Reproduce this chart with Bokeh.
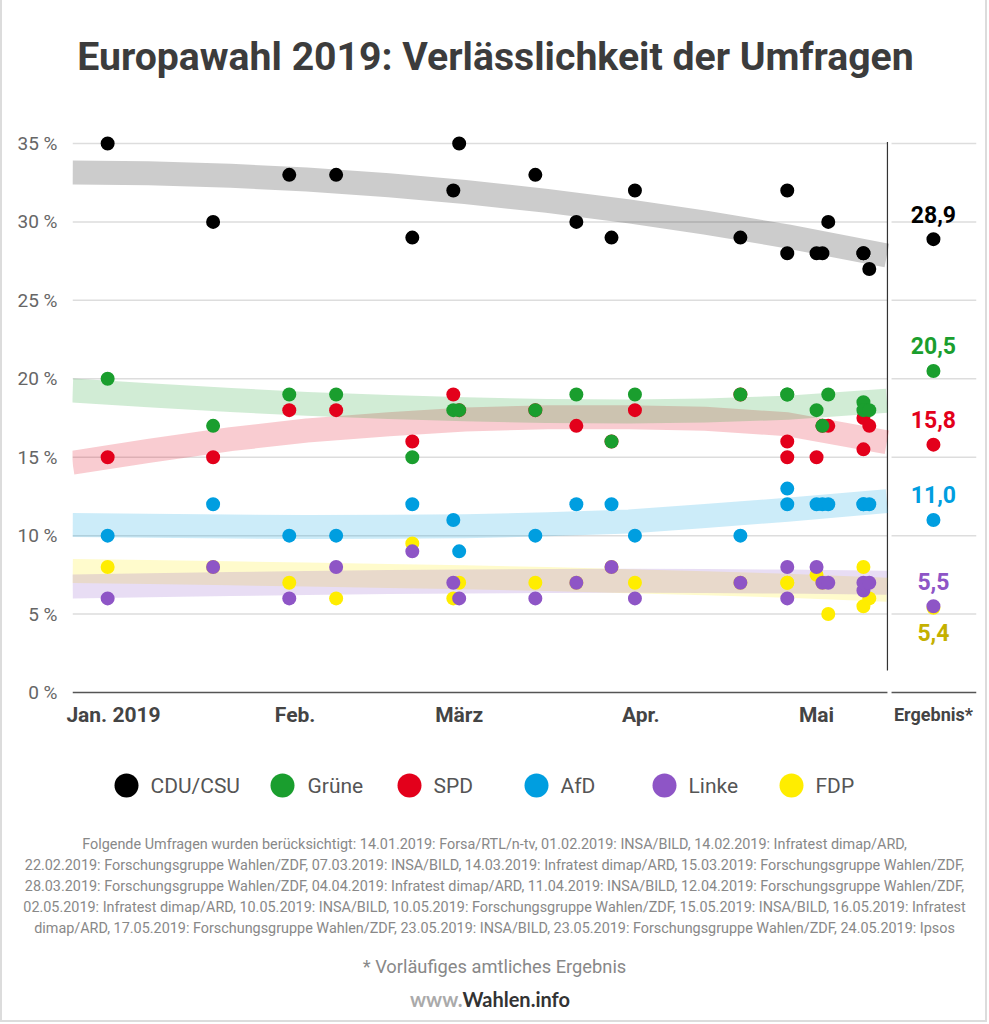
import pandas as pd
from bokeh.plotting import figure
from bokeh.models import Range1d, FixedTicker
from bokeh.layouts import column
from bokeh.embed import file_html
from bokeh.resources import INLINE
from bokeh.core.properties import value

# ---------------- data ----------------
parties = ["CDU/CSU", "Grüne", "SPD", "AfD", "Linke", "FDP"]
colors = ["#000000", "#1a9e2e", "#e3001b", "#009ee0", "#8e55c6", "#ffed00"]
result_colors = ["#000000", "#1a9e2e", "#e3001b", "#009ee0", "#8e55c6", "#c4b000"]

poll_dates = ["2019-01-14", "2019-02-01", "2019-02-14", "2019-02-22", "2019-03-07",
              "2019-03-14", "2019-03-15", "2019-03-28", "2019-04-04", "2019-04-10",
              "2019-04-14", "2019-05-02", "2019-05-10", "2019-05-10", "2019-05-15",
              "2019-05-16", "2019-05-17", "2019-05-23", "2019-05-23", "2019-05-24"]
cdu    = [35, 30, 33, 33, 29, 32, 35, 33, 30, 29, 32, 29, 28, 32, 28, 28, 30, 28, 28, 27]
gruene = [20, 17, 19, 19, 15, 18, 18, 18, 19, 16, 19, 19, 19, 19, 18, 17, 19, 18.5, 18, 18]
spd    = [15, 15, 18, 18, 16, 19, 18, 18, 17, 16, 18, 19, 15, 16, 15, 17, 17, 15.5, 17.5, 17]
afd    = [10, 12, 10, 10, 12, 11, 9, 10, 12, 12, 10, 10, 13, 12, 12, 12, 12, 12, 12, 12]
linke  = [6, 8, 6, 8, 9, 7, 6, 6, 7, 8, 6, 7, 8, 6, 8, 7, 7, 6.5, 7, 7]
fdp    = [8, 8, 7, 6, 9.5, 6, 7, 7, 7, 8, 7, 7, 7, 7, 7.5, 7, 5, 8, 5.5, 6]

result = [28.9, 20.5, 15.8, 11.0, 5.5, 5.4]
result_labels = ["28,9", "20,5", "15,8", "11,0", "5,5", "5,4"]

# trend bands (centre of each band)
trend_dates = ["2019-01-08", "2019-01-21", "2019-02-04", "2019-02-17", "2019-03-03", "2019-03-16",
               "2019-03-30", "2019-04-13", "2019-04-26", "2019-05-10", "2019-05-27"]
trend_cdu    = [33.15, 33.10, 32.94, 32.70, 32.34, 31.91, 31.34, 30.67, 29.96, 29.08, 27.86]
trend_gruene = [19.25, 18.95, 18.65, 18.40, 18.20, 18.05, 17.95, 17.92, 17.98, 18.15, 18.60]
trend_spd    = [14.65, 15.40, 16.15, 16.70, 17.10, 17.40, 17.55, 17.55, 17.45, 17.10, 15.95]
trend_afd    = [10.68, 10.63, 10.58, 10.55, 10.56, 10.60, 10.72, 10.90, 11.25, 11.65, 12.20]
trend_linke  = [6.75, 6.83, 6.92, 6.98, 7.04, 7.08, 7.11, 7.12, 7.11, 7.07, 7.00]
trend_fdp    = [7.75, 7.68, 7.60, 7.52, 7.43, 7.34, 7.23, 7.10, 6.97, 6.80, 6.55]

month_ticks = ["2019-01-15", "2019-02-15", "2019-03-15", "2019-04-15", "2019-05-15"]
month_labels = ["Jan. 2019", "Feb.", "März", "Apr.", "Mai"]
y_ticks = [0, 5, 10, 15, 20, 25, 30, 35]

title_text = "Europawahl 2019: Verlässlichkeit der Umfragen"
result_header = "Ergebnis*"
footnote_lines = [
    "Folgende Umfragen wurden berücksichtigt: 14.01.2019: Forsa/RTL/n-tv, 01.02.2019: INSA/BILD, 14.02.2019: Infratest dimap/ARD,",
    "22.02.2019: Forschungsgruppe Wahlen/ZDF, 07.03.2019: INSA/BILD, 14.03.2019: Infratest dimap/ARD, 15.03.2019: Forschungsgruppe Wahlen/ZDF,",
    "28.03.2019: Forschungsgruppe Wahlen/ZDF, 04.04.2019: Infratest dimap/ARD, 11.04.2019: INSA/BILD, 12.04.2019: Forschungsgruppe Wahlen/ZDF,",
    "02.05.2019: Infratest dimap/ARD, 10.05.2019: INSA/BILD, 10.05.2019: Forschungsgruppe Wahlen/ZDF, 15.05.2019: INSA/BILD, 16.05.2019: Infratest",
    "dimap/ARD, 17.05.2019: Forschungsgruppe Wahlen/ZDF, 23.05.2019: INSA/BILD, 23.05.2019: Forschungsgruppe Wahlen/ZDF, 24.05.2019: Ipsos",
]
note_text = "* Vorläufiges amtliches Ergebnis"

# ---------------- helpers ----------------
T0 = pd.Timestamp("2019-01-01")
def day(s):
    return (pd.Timestamp(s) - T0).days

px = [day(d) for d in poll_dates]
tx = [day(d) for d in trend_dates]
series = dict(zip(parties, [cdu, gruene, spd, afd, linke, fdp]))
trends = dict(zip(parties, [trend_cdu, trend_gruene, trend_spd, trend_afd, trend_linke, trend_fdp]))
col = dict(zip(parties, colors))

X0, X1 = 7.0, 161.3          # frame spans 904 px
SEP = 146.1                  # separator before the result column
ERG = 153.95                 # result column
GAP2 = 146.8
PXD = 904 / (X1 - X0)        # px per day
PXY = 15.686                 # px per percent
FONT = value("Roboto")

W = 987
p = figure(width=W, height=748, x_range=Range1d(X0, X1),
           y_range=Range1d(-38 / PXY, 682 / PXY),
           output_backend="svg", toolbar_location=None,
           min_border_left=72, min_border_right=W - 976, min_border_top=10, min_border_bottom=18)
p.outline_line_color = None
p.grid.visible = False
p.frame_align = False
p.border_fill_color = None
p.background_fill_color = None

# grid lines (two pieces)
gy = [t for t in y_ticks if t > 0]
p.segment(x0=[X0] * len(gy), x1=[SEP] * len(gy), y0=gy, y1=gy, line_color="#dddddd", line_width=1.5)
p.segment(x0=[GAP2] * len(gy), x1=[X1] * len(gy), y0=gy, y1=gy, line_color="#dddddd", line_width=1.5)
p.segment(x0=[X0, GAP2], x1=[SEP, X1], y0=[0, 0], y1=[0, 0], line_color="#555555", line_width=1.5)
# separator
p.segment(x0=[SEP], x1=[SEP], y0=[1.4], y1=[35.1], line_color="#333333", line_width=1.2)

# trend bands
for name in ["CDU/CSU", "SPD", "Grüne", "AfD", "FDP", "Linke"]:
    p.line(tx, trends[name], line_width=24, line_alpha=0.2, line_color=col[name],
           line_cap="butt", line_join="round")

# poll dots
for name in ["CDU/CSU", "SPD", "AfD", "FDP", "Linke", "Grüne"]:
    p.scatter(px, series[name], size=14, fill_color=col[name], line_color=None)

# result dots and labels
res = dict(zip(parties, result))
for name in ["CDU/CSU", "SPD", "Grüne", "AfD", "FDP", "Linke"]:
    p.scatter([ERG], [res[name]], size=14, fill_color=col[name], line_color=None)
offs = [-25, -25, -25, -25, -25, 25]
p.text(x=[ERG] * 6, y=result, text=result_labels, text_color=result_colors, y_offset=offs,
       text_align="center", text_baseline="middle", text_font=FONT,
       text_font_style="bold", text_font_size="23px")

# header for the result column and title (inside the frame area)
p.text(x=[ERG], y=[-22 / PXY], text=[result_header], text_align="center", text_baseline="middle",
       text_font=FONT, text_font_style="bold", text_font_size="18px", text_color="#444444")
p.text(x=[X0 + 423 / PXD], y=[636 / PXY], text=[title_text], text_align="center",
       text_baseline="middle", text_font=FONT, text_font_style="bold",
       text_font_size="39.2px", text_color="#3c3c3c")

# axes
p.yaxis.ticker = FixedTicker(ticks=y_ticks)
p.yaxis.major_label_overrides = {t: f"{t} %" for t in y_ticks}
p.yaxis.axis_line_color = None
p.yaxis.major_tick_line_color = None
p.yaxis.minor_tick_line_color = None
p.yaxis.major_tick_out = 0
p.yaxis.major_tick_in = 0
p.yaxis.major_label_text_font = "Roboto"
p.yaxis.major_label_text_font_size = "19px"
p.yaxis.major_label_text_color = "#666666"
p.yaxis.major_label_standoff = 15

mt = [day(d) for d in month_ticks]
p.xaxis.ticker = FixedTicker(ticks=mt)
p.xaxis.major_label_overrides = dict(zip(mt, month_labels))
p.xaxis.axis_line_color = None
p.xaxis.major_tick_line_color = None
p.xaxis.minor_tick_line_color = None
p.xaxis.major_tick_out = 0
p.xaxis.major_tick_in = 0
p.xaxis.major_label_text_font = "Roboto"
p.xaxis.major_label_text_font_style = "bold"
p.xaxis.major_label_text_font_size = "21px"
p.xaxis.major_label_text_color = "#444444"
p.xaxis.major_label_standoff = -28

# ---------------- footer figure (legend + notes), y measured from its top ----------------
f = figure(width=W, height=274, x_range=Range1d(0, W), y_range=Range1d(274, 0),
           output_backend="svg", toolbar_location=None, min_border=0,
           x_axis_location=None, y_axis_location=None)
f.grid.visible = False
f.outline_line_color = None
f.frame_align = False
f.border_fill_color = None
f.background_fill_color = None

leg_cx = [126, 282, 409, 536, 664, 791]
leg_tx = [150, 307, 433, 560, 688, 815]
f.scatter(leg_cx, [37] * 6, size=24, fill_color=colors, line_color=None)
f.text(x=leg_tx, y=[37] * 6, text=parties, text_align="left", text_baseline="middle",
       text_font=FONT, text_font_size="21px", text_color="#555555")

f.text(x=[494] * 5, y=[96, 117, 138, 159, 180], text=footnote_lines, text_align="center",
       text_baseline="middle", text_font=FONT, text_font_size="14.4px", text_color="#888888")
f.text(x=[494], y=[218], text=[note_text], text_align="center",
       text_baseline="middle", text_font=FONT, text_font_size="18.3px", text_color="#888888")
f.text(x=[462], y=[250], text=["www."], text_align="right", text_baseline="middle",
       text_font=value("Lato"), text_font_style="bold", text_font_size="20px", text_color="#aaaaaa")
f.text(x=[462], y=[250], text=["Wahlen.info"], text_align="left", text_baseline="middle",
       text_font=value("Lato"), text_font_style="bold", text_font_size="20px", text_color="#333333")

layout = column(p, f, spacing=0,
                styles={"box-shadow": "inset 2px 0 0 #dcdcdc, inset -2px 0 0 #dcdcdc, inset 0 -2px 0 #dcdcdc"})
open("out.html", "w").write(file_html(layout, INLINE))
